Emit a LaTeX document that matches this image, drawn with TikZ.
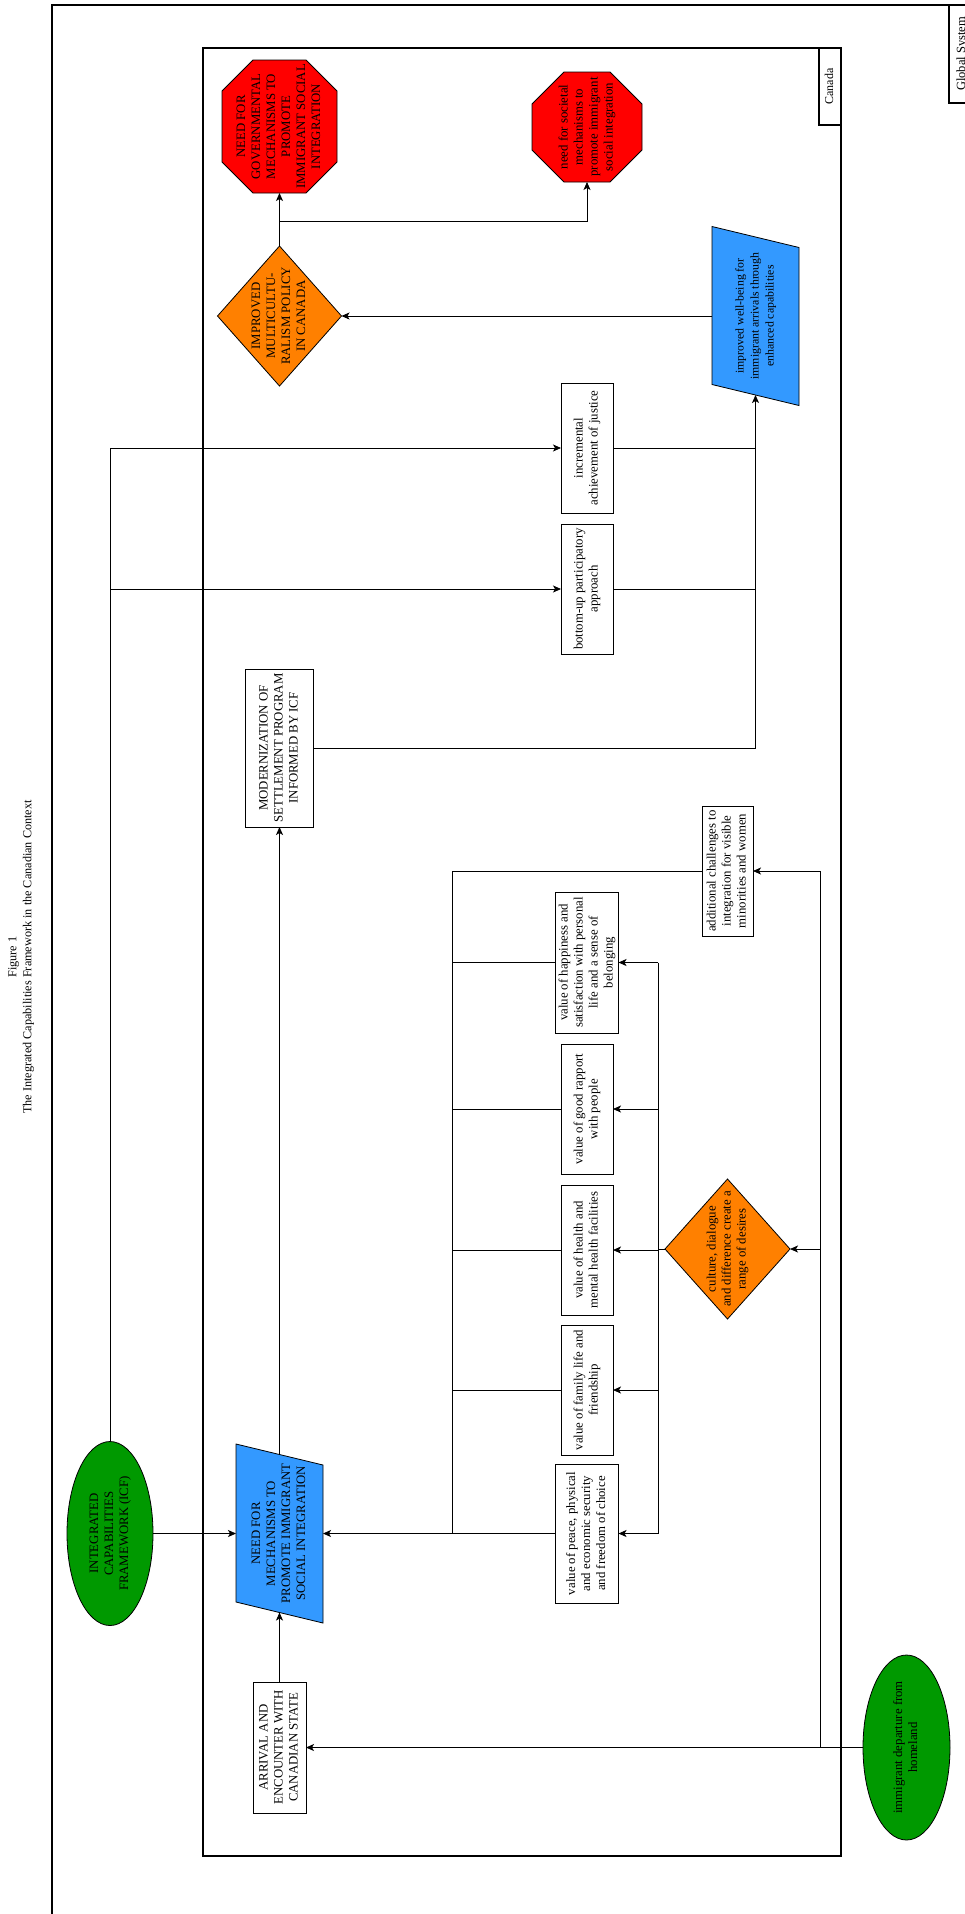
\documentclass[tikz,border=0pt]{standalone}
\usepackage{fontspec}
\setmainfont{Liberation Serif}
\usepackage{graphicx}
\usetikzlibrary{shapes.geometric,arrows.meta,calc}
\pgfdeclarelayer{background}
\pgfsetlayers{background,main}

\definecolor{orangeF}{HTML}{FF8000}
\definecolor{greenF}{HTML}{009900}
\definecolor{blueF}{HTML}{3399FF}
\definecolor{redF}{HTML}{FF0000}

% text set bottom-to-top, centred on the node centre, taking no room
\newcommand\uptext[1]{\makebox[0pt]{\raisebox{-0.5\height}[0pt][0pt]{\rotatebox{90}{\begin{tabular}{@{}c@{}}#1\end{tabular}}}}}

% outline of an octagon cut from a node's rectangle
\newcommand\octagonof[2]{($(#1.north west)+(#2,0)$) -- ($(#1.north east)+(-#2,0)$) -- ($(#1.north east)+(0,#2)$) -- ($(#1.south east)+(0,-#2)$) -- ($(#1.south east)+(-#2,0)$) -- ($(#1.south west)+(#2,0)$) -- ($(#1.south west)+(0,-#2)$) -- ($(#1.north west)+(0,#2)$) -- cycle}
% outline of a slanted parallelogram inside a node's rectangle
\newcommand\slantof[2]{(#1.north west) -- ($(#1.north east)+(0,#2)$) -- (#1.south east) -- ($(#1.south west)+(0,-#2)$) -- cycle}

\tikzset{
  shp/.style={inner sep=0pt, outer sep=0pt, line width=0.8pt, font=\fontsize{12.8}{15}\selectfont},
  box/.style={shp, rectangle, draw=black, fill=white},
  diam/.style={shp, diamond, draw=black, fill=orangeF},
  oval/.style={shp, ellipse, draw=black, fill=greenF},
  ghost/.style={shp, rectangle},
  octfill/.style={fill=redF, draw=black, line width=0.8pt},
  parfill/.style={fill=blueF, draw=black, line width=0.8pt},
  frame/.style={draw=black, line width=1.6pt},
  conn/.style={line width=0.8pt},
  arr/.style={line width=0.8pt, -{Stealth[length=8pt, width=7pt, inset=2pt]}},
}

\begin{document}
\begin{tikzpicture}[x=1pt, y=-1pt]
\useasboundingbox (0,0) rectangle (965,1914);
\clip (0,0) rectangle (965,1914);

% frames
\draw[frame] (52,5) rectangle (975,1960);
\draw[frame] (203,48) rectangle (841,1856);
\node[box, line width=1.2pt, minimum width=26pt, minimum height=98pt, font=\fontsize{12.5}{15}\selectfont] (globlab) at (962,54) {\uptext{Global System}};
\node[box, line width=1.2pt, minimum width=22pt, minimum height=77pt, font=\fontsize{12}{15}\selectfont] (canlab) at (830,86.5) {\uptext{Canada}};

% caption
\node[inner sep=0pt, font=\fontsize{12.2}{15}\selectfont] (title) at (21,957) {\uptext{Figure 1\\The Integrated Capabilities Framework in the Canadian Context}};

% outcomes
\node[ghost, minimum width=115pt, minimum height=133pt] (govt) at (279.5,126.5) {\uptext{NEED FOR\\GOVERNMENTAL\\MECHANISMS TO\\PROMOTE\\IMMIGRANT SOCIAL\\INTEGRATION}};
\node[ghost, minimum width=110pt, minimum height=110pt] (soc) at (587,127) {\uptext{need for societal\\mechanisms to\\promote immigrant\\social integration}};
\node[diam, minimum width=124pt, minimum height=140pt] (multi) at (279.5,316) {\uptext{IMPROVED\\MULTICULTU-\\RALISM POLICY\\IN CANADA}};
\node[ghost, minimum width=87pt, minimum height=179pt, font=\fontsize{11.8}{15}\selectfont] (wellb) at (755.5,316) {\uptext{improved well-being for\\immigrant arrivals through\\enhanced capabilities}};

% settlement program
\node[box, minimum width=52pt, minimum height=130pt] (incr) at (587,448) {\uptext{incremental\\achievement of justice}};
\node[box, minimum width=52pt, minimum height=130pt] (bott) at (587,589) {\uptext{bottom-up participatory\\approach}};
\node[box, minimum width=68pt, minimum height=158pt] (modern) at (279.5,748) {\uptext{MODERNIZATION OF\\SETTLEMENT PROGRAM\\INFORMED BY ICF}};

% values and challenges
\node[box, minimum width=51pt, minimum height=130pt] (addch) at (727.5,871) {\uptext{additional challenges to\\integration for visible\\minorities and women}};
\node[box, minimum width=63pt, minimum height=141pt] (happy) at (587,962.5) {\uptext{value of happiness and\\satisfaction with personal\\life and a sense of\\belonging}};
\node[box, minimum width=52pt, minimum height=130pt] (rapport) at (587,1109) {\uptext{value of good rapport\\with people}};
\node[box, minimum width=52pt, minimum height=130pt] (health) at (587,1250) {\uptext{value of health and\\mental health facilities}};
\node[box, minimum width=52pt, minimum height=130pt] (family) at (587,1390) {\uptext{value of family life and\\friendship}};
\node[box, minimum width=63pt, minimum height=139pt] (peace) at (587,1533.5) {\uptext{value of peace, physical\\and economic security\\and freedom of choice}};
\node[diam, minimum width=125pt, minimum height=140pt] (culture) at (727.5,1249) {\uptext{culture, dialogue\\and difference create a\\range of desires}};

% starting points
\node[oval, minimum width=86pt, minimum height=184pt] (icf) at (110,1533.5) {\uptext{INTEGRATED\\CAPABILITIES\\FRAMEWORK (ICF)}};
\node[ghost, minimum width=87pt, minimum height=179pt] (needmech) at (279.5,1533.5) {\uptext{NEED FOR\\MECHANISMS TO\\PROMOTE IMMIGRANT\\SOCIAL INTEGRATION}};
\node[box, minimum width=53pt, minimum height=131pt] (arrival) at (279.5,1747.5) {\uptext{ARRIVAL AND\\ENCOUNTER WITH\\CANADIAN STATE}};
\node[oval, minimum width=87pt, minimum height=185pt] (depart) at (906.5,1747.5) {\uptext{immigrant departure from\\homeland}};

% shaped outlines behind the text nodes
\begin{pgfonlayer}{background}
  \filldraw[octfill] \octagonof{govt}{31};
  \filldraw[octfill] \octagonof{soc}{32};
  \filldraw[parfill] \slantof{wellb}{21};
  \filldraw[parfill] \slantof{needmech}{21};
\end{pgfonlayer}

% junction points of the connectors
\coordinate (trunk) at (452,1533.5);
\coordinate (dist) at (658,1249);
\coordinate (rail) at (820,1747.5);
\coordinate (fork) at (279.5,221);

% into the need for mechanisms
\draw[arr] (icf.east) -- (needmech.west);
\draw[arr] (peace.west) -- (needmech.east);
\draw[conn] (addch.west) -- (addch.west -| trunk) -- (trunk);
\foreach \n in {happy,rapport,health,family}
  \draw[conn] (\n.west) -- (\n.west -| trunk);
\draw[arr] (arrival.north) -- ($(needmech.south)+(0,-10.5)$);

% desires feeding the values
\draw[conn] (culture.west) -- (dist);
\draw[conn] (dist |- happy.east) -- (dist |- peace.east);
\foreach \n in {happy,rapport,health,family,peace}
  \draw[arr] (dist |- \n.east) -- (\n.east);

% departure and arrival
\draw[arr] (depart.west) -- (arrival.east);
\draw[conn] (rail) -- (rail |- addch.east);
\draw[arr] (rail |- addch.east) -- (addch.east);
\draw[arr] (rail |- culture.east) -- (culture.east);

% settlement program
\draw[arr] ($(needmech.north)+(0,10.5)$) -- (modern.south);
\draw[arr] (icf.north) |- (incr.west);
\draw[arr] (icf.north |- bott.west) -- (bott.west);
\draw[conn] (incr.east) -- (incr.east -| wellb.south);
\draw[conn] (bott.east) -- (bott.east -| wellb.south);
\draw[arr] (modern.east) -| ($(wellb.south)+(0,-10.5)$);

% outcomes
\draw[arr] (wellb.west) -- (multi.east);
\draw[arr] (multi.north) -- (govt.south);
\draw[arr] (fork) -| (soc.south);
\end{tikzpicture}
\end{document}
